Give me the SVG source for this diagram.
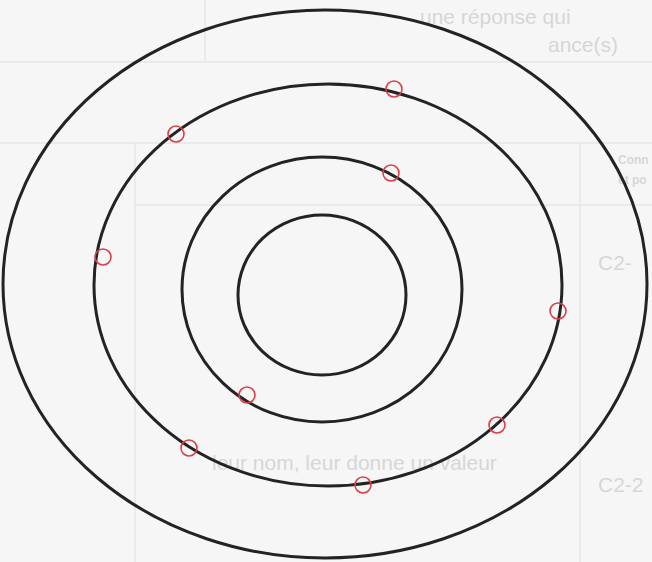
<svg xmlns="http://www.w3.org/2000/svg" width="652" height="562" viewBox="0 0 652 562">
  <style>
    .ghost-line { stroke: #e6e6e6; stroke-width: 1.5; fill: none; }
    .ghost-text { fill: #d6d6d6; font-family: "Liberation Sans", Arial, sans-serif; font-size: 21px; }
    .ghost-small { fill: #d6d6d6; font-family: "Liberation Sans", Arial, sans-serif; font-size: 12px; font-weight: bold; }
    .orbit { fill: none; stroke: #232323; stroke-width: 3; }
    .electron { fill: none; stroke: #d9404a; stroke-width: 1.6; }
  </style>
  <rect width="652" height="562" fill="#f6f6f6"/>
  <g id="background">
    <line class="ghost-line" x1="0" y1="62" x2="652" y2="62"/>
    <line class="ghost-line" x1="205" y1="0" x2="205" y2="62"/>
    <line class="ghost-line" x1="0" y1="143" x2="652" y2="143"/>
    <line class="ghost-line" x1="135" y1="143" x2="135" y2="562"/>
    <line class="ghost-line" x1="580" y1="143" x2="580" y2="562"/>
    <line class="ghost-line" x1="135" y1="205" x2="652" y2="205"/>
    <text class="ghost-text" x="420" y="24">une réponse qui</text>
    <text class="ghost-text" x="548" y="52">ance(s)</text>
    <text class="ghost-small" x="618" y="164">Conn</text>
    <text class="ghost-small" x="618" y="184">et po</text>
    <text class="ghost-text" x="598" y="270">C2-</text>
    <text class="ghost-text" x="598" y="492">C2-2</text>
    <text class="ghost-text" x="212" y="470">leur nom, leur donne un valeur</text>
  </g>
  <g id="orbit-1"><ellipse class="orbit" cx="322" cy="295" rx="84" ry="80"/></g>
  <g id="orbit-2"><ellipse class="orbit" cx="322" cy="289.5" rx="140" ry="132.5"/></g>
  <g id="orbit-3"><ellipse class="orbit" cx="328" cy="285" rx="234" ry="201"/></g>
  <g id="orbit-4"><ellipse class="orbit" cx="325" cy="284" rx="322" ry="274"/></g>
  <g id="electrons">
    <circle class="electron" cx="394" cy="89" r="8"/>
    <circle class="electron" cx="176" cy="134" r="8"/>
    <circle class="electron" cx="391" cy="173" r="8"/>
    <circle class="electron" cx="103" cy="257" r="8"/>
    <circle class="electron" cx="558" cy="311" r="8"/>
    <circle class="electron" cx="247" cy="395" r="8"/>
    <circle class="electron" cx="189" cy="448" r="8"/>
    <circle class="electron" cx="497" cy="425" r="8"/>
    <circle class="electron" cx="363" cy="485" r="8"/>
  </g>
</svg>
